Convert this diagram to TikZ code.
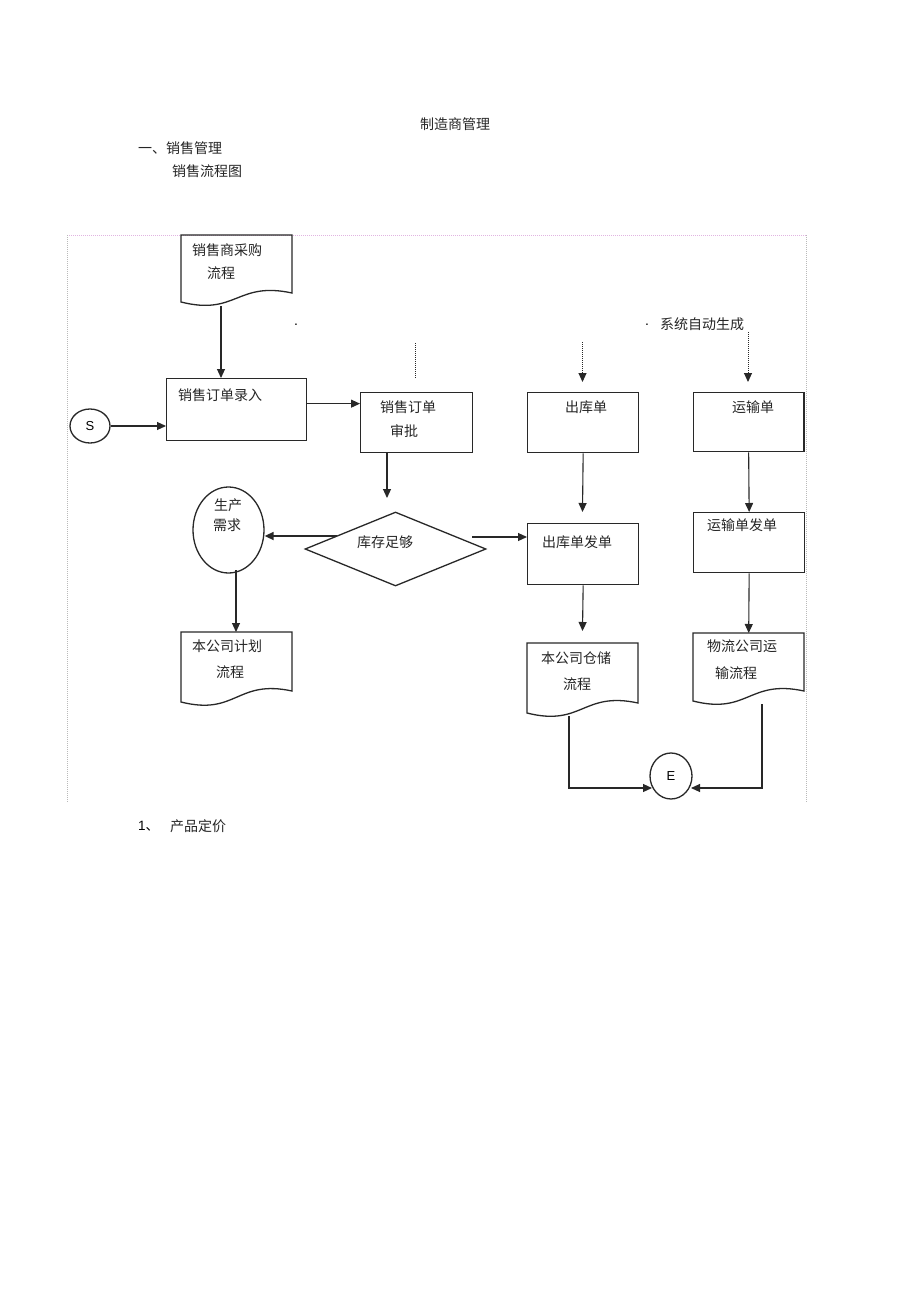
\documentclass[tikz,border=0pt]{standalone}
\usepackage{fontspec}
\setmainfont{Liberation Sans}
\newfontfamily\cjk{Noto Sans CJK SC}
\usetikzlibrary{arrows.meta,shapes.geometric}
\definecolor{framepink}{RGB}{225,180,225}
\definecolor{framegrey}{RGB}{185,185,185}
\definecolor{linec}{RGB}{40,40,40}
\begin{document}
\begin{tikzpicture}[x=1pt,y=-1pt,
  ln/.style={draw=linec,line width=1.3pt},
  boxnode/.style={draw=linec,line width=1.3pt,rectangle,inner sep=0pt,anchor=north west},
  docnode/.style={draw=none,rectangle,inner sep=0pt,anchor=north west},
  txt/.style={font=\cjk\fontsize{14}{16}\selectfont,inner sep=0pt,anchor=west,text=black!85},
  ctxt/.style={font=\cjk\fontsize{14}{16}\selectfont,inner sep=0pt,text=black!85},
  arr/.style={-{Triangle[length=9pt,width=8pt]},line width=1.1pt,draw=linec},
  dotarr/.style={-{Triangle[length=9pt,width=8pt]},line width=1pt,draw=linec,densely dotted},
  ell/.style={draw=linec,line width=1.3pt,ellipse,inner sep=0pt}]
\useasboundingbox[fill=white] (0,0) rectangle (920,1303);

% headings
\node[txt] (title) at (420,124) {制造商管理};
\node[txt] (h1) at (138,148) {一、销售管理};
\node[txt] (h2) at (172,171) {销售流程图};

% frame
\draw[framepink,densely dotted,line width=1pt] (67,235) -- (806,235);
\draw[framegrey,densely dotted,line width=1pt] (67,235) -- (67,802);
\draw[framegrey,densely dotted,line width=1pt] (806,235) -- (806,802);

% document shapes
\node[docnode,minimum width=111,minimum height=67] (d1) at (181,235) {};
\draw[ln] (181,302) -- (181,235) -- (292,235) -- (292,293) .. controls (236.5,281) and (236.5,316) .. (181,302) -- cycle;
\node[txt] (d1a) at (192,250) {销售商采购};
\node[txt] (d1b) at (207,273) {流程};

\node[docnode,minimum width=111,minimum height=70] (d2) at (181,632) {};
\draw[ln] (181,702) -- (181,632) -- (292,632) -- (292,691) .. controls (236.5,679) and (236.5,716) .. (181,702) -- cycle;
\node[txt] (d2a) at (192,646) {本公司计划};
\node[txt] (d2b) at (216,672) {流程};

\node[docnode,minimum width=111,minimum height=70] (d3) at (527,643) {};
\draw[ln] (527,713) -- (527,643) -- (638,643) -- (638,703) .. controls (582.5,691) and (582.5,727) .. (527,713) -- cycle;
\node[txt] (d3a) at (541,658) {本公司仓储};
\node[txt] (d3b) at (563,684) {流程};

\node[docnode,minimum width=111,minimum height=68] (d4) at (693,633) {};
\draw[ln] (693,701) -- (693,633) -- (804,633) -- (804,691) .. controls (748.5,679) and (748.5,715) .. (693,701) -- cycle;
\node[txt] (d4a) at (707,646) {物流公司运};
\node[txt] (d4b) at (715,673) {输流程};

% boxes
\node[boxnode,minimum width=140,minimum height=62] (entry) at (166,378) {};
\node[txt] (entryT) at (178,395) {销售订单录入};

\node[boxnode,minimum width=112,minimum height=60] (appr) at (360,392) {};
\node[txt] (apprA) at (380,407) {销售订单};
\node[txt] (apprB) at (390,431) {审批};

\node[boxnode,minimum width=111,minimum height=60] (outA) at (527,392) {};
\node[txt] (outAT) at (565,407) {出库单};

\node[boxnode,minimum width=110,minimum height=59] (trA) at (693,392) {};
\draw[linec,line width=2.2pt] (trA.north east) -- (trA.south east);
\node[txt] (trAT) at (732,407) {运输单};

\node[boxnode,minimum width=111,minimum height=61] (outB) at (527,523) {};
\node[txt] (outBT) at (542,542) {出库单发单};

\node[boxnode,minimum width=111,minimum height=60] (trB) at (693,512) {};
\node[txt] (trBT) at (707,525) {运输单发单};

% diamond
\node[draw=linec,line width=1.3pt,diamond,minimum width=181,minimum height=74,inner sep=0pt] (dia) at (395.5,549) {};
\node[txt] (diaT) at (357,542) {库存足够};

% ellipses
\node[ell,minimum width=40,minimum height=34] (S) at (90,426) {\fontsize{13}{15}\selectfont S};
\node[ell,minimum width=71,minimum height=86] (prod) at (228.5,530) {};
\node[ctxt] (prodA) at (228,505) {生产};
\node[ctxt] (prodB) at (227,525) {需求};
\node[ell,minimum width=42,minimum height=46] (E) at (671,776) {\fontsize{13}{15}\selectfont E};

% annotations
\node[inner sep=0pt,font=\fontsize{14}{16}\selectfont] (dot1) at (296,325) {.};
\node[inner sep=0pt,font=\fontsize{14}{16}\selectfont] (dot2) at (647,325) {.};
\node[txt] (auto) at (660,324) {系统自动生成};

% connectors
\coordinate (c1) at (221,306);
\draw[arr] (c1) -- (c1 |- entry.north);
\draw[arr] (S.east) -- (S.east -| entry.west);
\draw[arr] ([yshift=6pt]entry.east) -- ([yshift=6pt]entry.east -| appr.west);
\coordinate (c2) at (387,498);
\draw[arr] (appr.south -| c2) -- (c2);
\coordinate (c3) at (337,536);
\draw[arr,line width=1.7pt] (c3) -- (c3 -| prod.east);
\coordinate (c4) at (236,570);
\draw[arr] (c4) -- (c4 |- d2.north);
\coordinate (c5) at (472,537);
\draw[arr] (c5) -- (c5 -| outB.west);
\coordinate (c6) at (582.5,512);
\draw[arr] (outA.south) -- (c6);
\coordinate (c7) at (582.5,631);
\draw[arr] (outB.south) -- (c7);
\draw[arr] (trA.south) -- (trB.north);
\draw[arr] (trB.south) -- (d4.north);
\coordinate (c8) at (569,716);
\coordinate (c9) at (652,788);
\draw[arr] (c8) |- (c9);
\coordinate (c10) at (762,704);
\coordinate (c11) at (691,788);
\draw[arr] (c10) |- (c11);

% dotted links
\coordinate (p1) at (415,343);
\coordinate (p1e) at (415,379);
\draw[linec,densely dotted,line width=1pt] (p1) -- (p1e);
\coordinate (p2) at (582.5,342);
\coordinate (p2e) at (582.5,382);
\draw[dotarr] (p2) -- (p2e);
\coordinate (p3) at (748,332);
\coordinate (p3e) at (748,382);
\draw[dotarr] (p3) -- (p3e);

% footer
\node[inner sep=0pt,anchor=west,font=\fontsize{13.5}{15}\selectfont] (n1) at (138,826) {1\cjk 、};
\node[txt] (foot) at (170,826) {产品定价};
\end{tikzpicture}
\end{document}
